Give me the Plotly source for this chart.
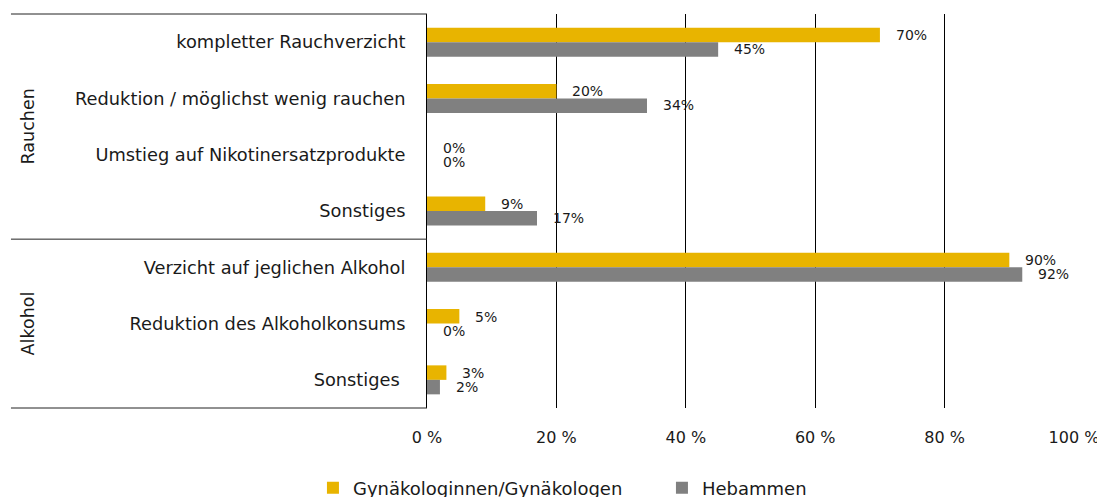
import plotly.graph_objects as go

# ---- data ----
groups = ["Rauchen", "Rauchen", "Rauchen", "Rauchen", "Alkohol", "Alkohol", "Alkohol"]
category_ids = ["r1", "r2", "r3", "r4", "a1", "a2", "a3"]
category_labels = [
    "kompletter Rauchverzicht",
    "Reduktion / möglichst wenig rauchen",
    "Umstieg auf Nikotinersatzprodukte",
    "Sonstiges",
    "Verzicht auf jeglichen Alkohol",
    "Reduktion des Alkoholkonsums",
    "Sonstiges\u00a0",
]
gyn_values = [70, 20, 0, 9, 90, 5, 3]
heb_values = [45, 34, 0, 17, 92, 0, 2]
series_names = ["Gynäkologinnen/Gynäkologen", "Hebammen"]
x_tickvals = [0, 20, 40, 60, 80, 100]
x_ticktext = ["0 %", "20 %", "40 %", "60 %", "80 %", "100 %"]

YELLOW = "#E8B400"
GRAY = "#808080"
FONT = "DejaVu Sans"
TXT = "#1a1a1a"

fig = go.Figure()
fig.add_trace(go.Bar(y=category_ids, x=gyn_values, orientation="h", name=series_names[0],
                     marker=dict(color=YELLOW, line=dict(width=0)), hoverinfo="x+name"))
fig.add_trace(go.Bar(y=category_ids, x=heb_values, orientation="h", name=series_names[1],
                     marker=dict(color=GRAY, line=dict(width=0)), hoverinfo="x+name"))

annotations = []
for vals, ysh in ((gyn_values, 7), (heb_values, -7)):
    for cid, v in zip(category_ids, vals):
        annotations.append(dict(x=v, y=cid, xref="x", yref="y", text=f"{v}%",
                                showarrow=False, xanchor="left", yanchor="middle",
                                xshift=14, yshift=ysh,
                                font=dict(family=FONT, size=14, color=TXT)))

# group labels (rotated)
group_names = []
for g in groups:
    if g not in group_names:
        group_names.append(g)
n = len(category_ids)
start = 0
shapes = []
for g in group_names:
    cnt = groups.count(g)
    center = 1 - (start + cnt / 2) / n
    annotations.append(dict(x=-0.616, y=center, xref="paper", yref="paper", text=g,
                            showarrow=False, textangle=-90, xanchor="center", yanchor="middle",
                            font=dict(family=FONT, size=17.5, color=TXT)))
    start += cnt

# table lines on the left
for k in (0, groups.count("Rauchen"), n):
    yy = 1 - k / n
    shapes.append(dict(type="line", xref="paper", yref="paper", x0=-0.642, x1=0,
                       y0=yy, y1=yy, line=dict(color="#222", width=1)))

fig.update_layout(
    width=1105, height=497, autosize=False,
    margin=dict(l=419, r=38, t=6, b=97, autoexpand=False),
    paper_bgcolor="white", plot_bgcolor="white",
    barmode="group", bargap=0.485, bargroupgap=0,
    font=dict(family=FONT, size=17, color=TXT),
    showlegend=True,
    legend=dict(orientation="h", xref="paper", x=-0.176, xanchor="left",
                yref="paper", y=-0.203, yanchor="middle",
                font=dict(family=FONT, size=18, color=TXT), entrywidth=304,
                entrywidthmode="pixels", traceorder="normal"),
    annotations=annotations,
    shapes=shapes,
)
fig.update_xaxes(range=[0, 100.15], tickvals=x_tickvals, ticktext=x_ticktext,
                 showgrid=True, gridcolor="#000", gridwidth=1, zeroline=False,
                 showline=False, ticks="", ticklabelstandoff=18, automargin=False,
                 tickfont=dict(family=FONT, size=16, color=TXT), fixedrange=True)
fig.update_yaxes(type="category", categoryorder="array", categoryarray=category_ids,
                 tickvals=category_ids, ticktext=category_labels,
                 range=[n - 0.5, -0.5], showgrid=False, zeroline=False,
                 showline=True, linecolor="#000", linewidth=1, ticks="",
                 ticklabelstandoff=17, automargin=False,
                 tickfont=dict(family=FONT, size=17.8, color=TXT), fixedrange=True)

fig.write_html("out.html")
